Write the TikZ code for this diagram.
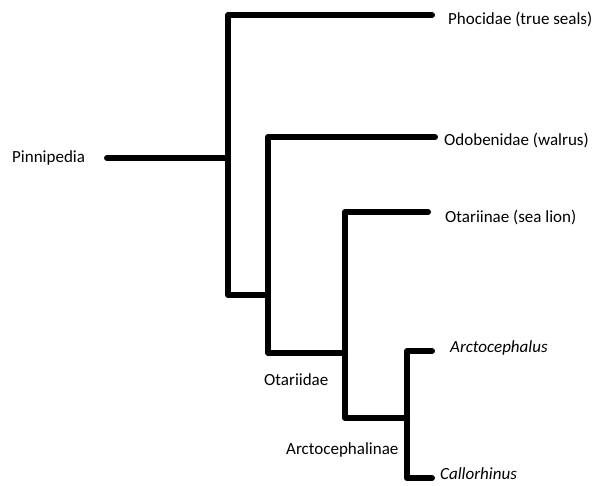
\documentclass[tikz,border=0pt]{standalone}
\usepackage{fontspec}
\setmainfont{Carlito}
\usetikzlibrary{positioning}

\begin{document}
\begin{tikzpicture}[x=1pt, y=-1pt, line cap=round, line join=round,
    branch/.style={line width=6pt},
    taxon/.style={font=\fontsize{17}{19}\selectfont, anchor=west, inner sep=0pt}]

  \useasboundingbox (0,0) rectangle (592,485);

  % ── root ─────────────────────────────────────────────────────────────────

  \node[taxon] (pinn) at (12,158) {Pinnipedia};
  \coordinate (rootL) at (107,158);
  \coordinate (n1) at (228,158);
  \coordinate (n2) at (268,295);
  \coordinate (n3) at (345,353);
  \coordinate (n4) at (407,418);

  % ── leaf ends ────────────────────────────────────────────────────────────

  \coordinate (phoE) at (432,15);
  \coordinate (odoE) at (435,137);
  \coordinate (otaE) at (428,212);
  \coordinate (arcE) at (432,351);
  \coordinate (calE) at (432,478);

  \node[taxon] (pho) at (448,19) {Phocidae (true seals)};
  \node[taxon] (odo) at (444,140) {Odobenidae (walrus)};
  \node[taxon] (ota) at (445,217) {Otariinae (sea lion)};
  \node[taxon, font=\fontsize{17}{19}\selectfont\itshape] (arc) at (450,348) {Arctocephalus};
  \node[taxon, font=\fontsize{17}{19}\selectfont\itshape] (cal) at (440,474) {Callorhinus};

  % clade labels
  \node[taxon] (otariidae) at (264,380) {Otariidae};
  \node[taxon] (arctoph) at (286,450) {Arctocephalinae};

  % ── branches ─────────────────────────────────────────────────────────────

  \draw[branch] (rootL) -- (n1);
  \draw[branch] (phoE) -| (n1) |- (n2);
  \draw[branch] (odoE) -| (n2) |- (n3);
  \draw[branch] (otaE) -| (n3) |- (n4);
  \draw[branch] (arcE) -| (n4) |- (calE);

\end{tikzpicture}
\end{document}
